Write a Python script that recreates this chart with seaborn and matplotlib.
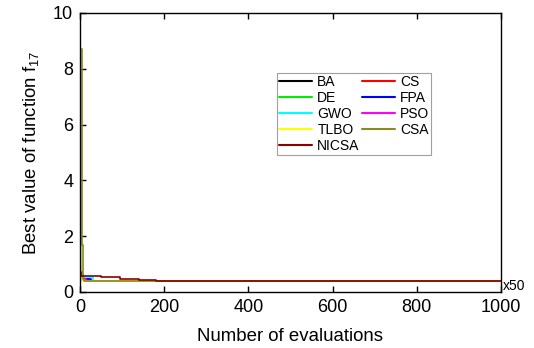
import matplotlib
matplotlib.use("Agg")
import matplotlib.pyplot as plt
import seaborn as sns
import pandas as pd

sns.set_style("white")
plt.rcParams['font.family'] = ['Liberation Sans', 'DejaVu Sans']
plt.rcParams['mathtext.fontset'] = 'custom'
plt.rcParams['mathtext.rm'] = 'Liberation Sans'
plt.rcParams['mathtext.it'] = 'Liberation Sans'
plt.rcParams['text.color'] = 'black'
plt.rcParams['axes.labelcolor'] = 'black'
plt.rcParams['xtick.color'] = 'black'
plt.rcParams['ytick.color'] = 'black'

# step-curve data (evaluation index x50, best value)
ba_x = [0, 3, 8, 15, 1000]
ba_y = [1.2, 0.6, 0.45, 0.40, 0.398]
cs_x = [0, 2, 6, 20, 1000]
cs_y = [1.0, 0.55, 0.45, 0.40, 0.398]
de_x = [0, 2, 5, 12, 1000]
de_y = [2.0, 0.7, 0.42, 0.40, 0.398]
fpa_x = [0, 3, 10, 25, 1000]
fpa_y = [0.8, 0.55, 0.48, 0.40, 0.398]
gwo_x = [0, 2, 6, 30, 1000]
gwo_y = [1.6, 0.55, 0.52, 0.40, 0.398]
pso_x = [0, 2, 5, 14, 1000]
pso_y = [0.9, 0.65, 0.45, 0.40, 0.398]
tlbo_x = [0, 2, 5, 10, 1000]
tlbo_y = [1.8, 0.6, 0.42, 0.40, 0.398]
csa_x = [0, 4, 6, 9, 1000]
csa_y = [8.7, 1.7, 0.45, 0.40, 0.398]
nicsa_x = [0, 3, 10, 50, 95, 140, 180, 1000]
nicsa_y = [0.7, 0.58, 0.56, 0.54, 0.45, 0.42, 0.40, 0.398]

names = ["BA", "CS", "DE", "FPA", "GWO", "PSO", "TLBO", "CSA", "NICSA"]
xs = [ba_x, cs_x, de_x, fpa_x, gwo_x, pso_x, tlbo_x, csa_x, nicsa_x]
ys = [ba_y, cs_y, de_y, fpa_y, gwo_y, pso_y, tlbo_y, csa_y, nicsa_y]
colors = ["#000000", "#ff0000", "#00ee00", "#0000ff", "#00ffff", "#ff00ff",
          "#ffff00", "#8a8a20", "#8b0000"]

rows = []
for n, x, y in zip(names, xs, ys):
    for a, b in zip(x, y):
        rows.append({"alg": n, "x": a, "y": b})
df = pd.DataFrame(rows)

fig = plt.figure(figsize=(5.34, 3.48), dpi=100)
ax = fig.add_axes([0.15, 0.161, 0.788, 0.802])
sns.lineplot(data=df, x="x", y="y", hue="alg", hue_order=names,
             palette=dict(zip(names, colors)), drawstyle="steps-post",
             linewidth=1.2, ax=ax, estimator=None, sort=False)

ax.set_xlim(0, 1000)
ax.set_ylim(0, 10)
ax.set_xticks([0, 200, 400, 600, 800, 1000])
ax.set_yticks([0, 2, 4, 6, 8, 10])
ax.tick_params(direction="in", labelsize=13, length=4, top=True, right=False,
               bottom=True, left=True, width=1, pad=5)
for s in ax.spines.values():
    s.set_color("black")
    s.set_linewidth(1.0)
ax.set_xlabel("Number of evaluations", fontsize=13.4, labelpad=9)
ax.set_ylabel("Best value of function f$_{17}$", fontsize=13.4, labelpad=9)
ax.text(1.004, 0.02, "x50", transform=ax.transAxes, fontsize=10,
        ha="left", va="center")

handles, labels = ax.get_legend_handles_labels()
hmap = dict(zip(labels, handles))
order = ["BA", "DE", "GWO", "TLBO", "NICSA", "CS", "FPA", "PSO", "CSA"]
leg = ax.legend([hmap[o] for o in order], order, ncol=2, loc="upper left",
                bbox_to_anchor=(0.468, 0.785), borderaxespad=0,
                fontsize=10, frameon=True, fancybox=False, edgecolor="#888888",
                handlelength=2.4, columnspacing=0.15, labelspacing=0.15,
                borderpad=0.15, handletextpad=0.35)
leg.get_frame().set_linewidth(0.8)
for h in leg.get_lines():
    h.set_linewidth(1.5)

fig.savefig("out.png", dpi=100)
